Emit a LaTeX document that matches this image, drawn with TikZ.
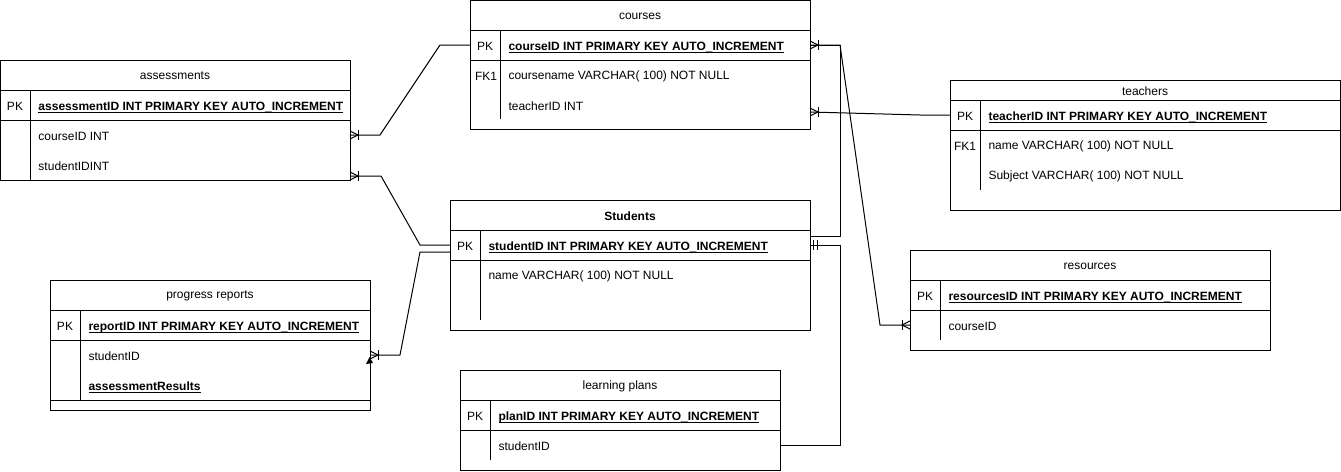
\documentclass[tikz,border=0pt]{standalone}
\usepackage{fontspec}
\setmainfont{Liberation Sans}
\newcommand{\ulx}[1]{\leavevmode\setbox0=\hbox{#1}\rlap{\rule[-1.9pt]{\wd0}{0.65pt}}\box0}
\begin{document}
\begin{tikzpicture}[x=0.75pt,y=-0.75pt, line width=0.75pt,
  font=\fontsize{9}{11}\selectfont,
  tbl/.style={draw, inner sep=0pt, anchor=north west},
  ttl/.style={inner sep=0pt, yshift=-0.75pt},
  key/.style={inner sep=0pt, yshift=-0.75pt},
  fld/.style={inner sep=0pt, anchor=west, yshift=-0.75pt},
  pkf/.style={inner sep=0pt, anchor=base west, yshift=-4.0pt, font=\fontsize{9}{11}\selectfont\bfseries},
  pics/crow/.style={code={\draw (0,-4)--(8,0)--(0,4); \draw (8,-5)--(8,5);}},
  pics/bars/.style={code={\draw (3,-5)--(3,5); \draw (7,-5)--(7,5);}}]
\useasboundingbox (0,0) rectangle (1341,471);

% ---------- assessments
\node[tbl, minimum width=350*0.75pt, minimum height=120*0.75pt] (assess) at (0,60) {};
\node[ttl] (assessT) at (175,75) {assessments};
\draw (0,90) -- (350,90) (0,120) -- (350,120) (30,90) -- (30,180);
\node[key] (assessK) at (15,105) {PK};
\node[pkf] (assessPK) at (38,105) {\ulx{assessmentID INT PRIMARY KEY AUTO\_INCREMENT}};
\node[fld] (assessF1) at (38,135) {courseID INT};
\node[fld] (assessF2) at (38,165) {studentIDINT};

% ---------- courses
\node[tbl, minimum width=340*0.75pt, minimum height=129*0.75pt] (courses) at (470,0) {};
\node[ttl] (coursesT) at (640,15) {courses};
\draw (470,30) -- (810,30) (470,60) -- (810,60) (500,30) -- (500,119);
\node[key] (coursesK) at (485,45) {PK};
\node[key] (coursesK2) at (486,75) {FK1};
\node[pkf] (coursesPK) at (508,45) {\ulx{courseID INT PRIMARY KEY AUTO\_INCREMENT}};
\node[fld] (coursesF1) at (508,75) {coursename VARCHAR( 100) NOT NULL};
\node[fld] (coursesF2) at (508,105) {teacherID INT};

% ---------- teachers
\node[tbl, minimum width=390*0.75pt, minimum height=130*0.75pt] (teachers) at (950,80) {};
\node[ttl] (teachersT) at (1145,90) {teachers};
\draw (950,100) -- (1340,100) (950,130) -- (1340,130) (980,100) -- (980,190);
\node[key] (teachersK) at (965,115) {PK};
\node[key] (teachersK2) at (965,145) {FK1};
\node[pkf] (teachersPK) at (988,115) {\ulx{teacherID INT PRIMARY KEY AUTO\_INCREMENT}};
\node[fld] (teachersF1) at (988,145) {name VARCHAR( 100) NOT NULL};
\node[fld] (teachersF2) at (988,175) {Subject VARCHAR( 100) NOT NULL};

% ---------- Students
\node[tbl, minimum width=360*0.75pt, minimum height=130*0.75pt] (students) at (450,200) {};
\node[ttl, font=\fontsize{9}{11}\selectfont\bfseries] (studentsT) at (630,215) {Students};
\draw (450,230) -- (810,230) (450,260) -- (810,260) (480,230) -- (480,320);
\node[key] (studentsK) at (465,245) {PK};
\node[pkf] (studentsPK) at (488,245) {\ulx{studentID INT PRIMARY KEY AUTO\_INCREMENT}};
\node[fld] (studentsF1) at (488,275) {name VARCHAR( 100) NOT NULL};

% ---------- progress reports
\node[tbl, minimum width=320*0.75pt, minimum height=130*0.75pt] (progress) at (50,280) {};
\node[ttl] (progressT) at (210,295) {progress reports};
\draw (50,310) -- (370,310) (50,340) -- (370,340) (50,400) -- (370,400) (80,310) -- (80,400);
\node[key] (progressK) at (65,325) {PK};
\node[pkf] (progressPK) at (88,325) {\ulx{reportID INT PRIMARY KEY AUTO\_INCREMENT}};
\node[fld] (progressF1) at (88,355) {studentID};
\node[pkf] (progressF2) at (88,385) {\ulx{assessmentResults}};

% ---------- resources
\node[tbl, minimum width=360*0.75pt, minimum height=100*0.75pt] (resources) at (910,250) {};
\node[ttl] (resourcesT) at (1090,265) {resources};
\draw (910,280) -- (1270,280) (910,310) -- (1270,310) (940,280) -- (940,340);
\node[key] (resourcesK) at (925,295) {PK};
\node[pkf] (resourcesPK) at (948,295) {\ulx{resourcesID INT PRIMARY KEY AUTO\_INCREMENT}};
\node[fld] (resourcesF1) at (948,325) {courseID};

% ---------- learning plans
\node[tbl, minimum width=320*0.75pt, minimum height=100*0.75pt] (plans) at (460,370) {};
\node[ttl] (plansT) at (620,385) {learning plans};
\draw (460,400) -- (780,400) (460,430) -- (780,430) (490,400) -- (490,460);
\node[key] (plansK) at (475,415) {PK};
\node[pkf] (plansPK) at (498,415) {\ulx{planID INT PRIMARY KEY AUTO\_INCREMENT}};
\node[fld] (plansF1) at (498,445) {studentID};

% ---------- ports
\coordinate (pCoursesL) at (470,45);
\coordinate (pCoursesR) at (810,45);
\coordinate (pCoursesT) at (810,112);
\coordinate (pAssessC) at (350,135);
\coordinate (pAssessS) at (350,176);
\coordinate (pStudL1) at (450,245);
\coordinate (pStudL2) at (450,252);
\coordinate (pStudR1) at (810,236);
\coordinate (pStudR2) at (810,245);
\coordinate (pTeachL) at (950,115);
\coordinate (pResL) at (910,325);
\coordinate (pProgR) at (370,355);
\coordinate (pPlanR) at (780,445);

% ---------- connectors
\draw (pCoursesL) -- (440,45) -- (380,135) -- (pAssessC);
\pic at (pAssessC) {crow};
\draw (pAssessS) -- (381,176) -- (420,245) -- (pStudL1);
\pic at (pAssessS) {crow};
\draw (pStudL2) -- (420,252) -- (400,355) -- (pProgR);
\pic at (pProgR) {crow};
\fill (366,364) -- (369.5,357) -- (373,363) -- cycle;
\draw (pCoursesR) -- (840,45) -- (880,325) -- (pResL);
\pic[rotate=180] at (pResL) {crow};
\draw (pCoursesR) -- (840,45) -- (840,236) -- (pStudR1);
\pic at (pCoursesR) {crow};
\draw (pTeachL) -- (920,115) -- (pCoursesT);
\pic at (pCoursesT) {crow};
\draw (pStudR2) -- (840,245) -- (840,445) -- (pPlanR);
\pic at (pStudR2) {bars};
\end{tikzpicture}
\end{document}
